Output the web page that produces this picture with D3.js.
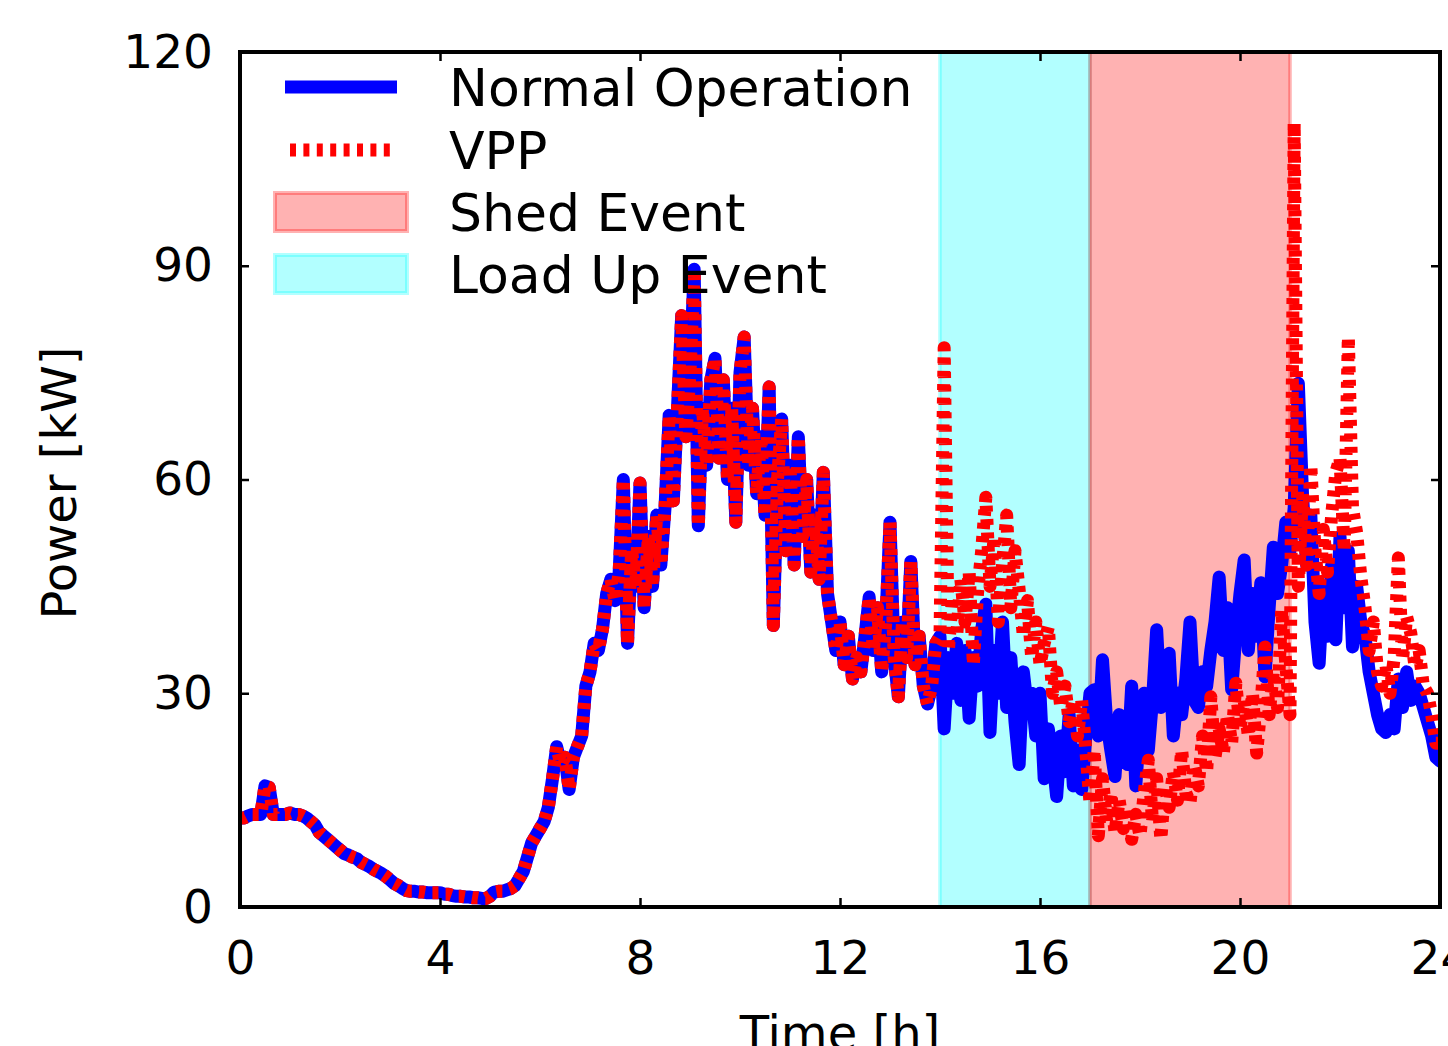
<!DOCTYPE html>
<html><head><meta charset="utf-8">
<script src="https://cdn.jsdelivr.net/npm/d3@7"></script>
<style>
body{margin:0;background:#fff;}
svg{display:block;font-family:"DejaVu Sans",sans-serif;}
</style>
</head><body>
<svg id="chart" width="1448" height="1046"></svg>
<script>
// ---- data (5-minute samples) ----
const stepMinutes = 5;
// Normal operation, 00:00 .. 24:00
const normalPower = [
  12.5,12.5,12.8,13,13,13,17,16.8,13,13,13,13,
  13.2,13,13,12.8,12.5,12,11.5,10.5,10,9.5,9,8.5,
  8,7.5,7.3,7,6.8,6.3,6,5.7,5.3,5,4.7,4.3,
  3.8,3.3,3,2.6,2.3,2.2,2.2,2.1,2.1,2,2,2,
  2,1.8,1.8,1.6,1.5,1.5,1.4,1.4,1.3,1.3,1.2,1.2,
  1.5,2.1,2.2,2.2,2.4,2.6,3,4,5,7,9,10,
  11,12,14,18,22.5,20,21,16.5,21,22.5,24,31,
  33,37,36,39,44,46,43,47,60,37,50,45,
  59.5,42,52,45,55,48,56,69,57,70,83,66,
  75,89.5,53.5,70,62,74,77,63,74,60,70,54,
  75,80,62,70,58,66,55,73,39.5,60,68.5,50,
  62,48,66,52,60,47,55,46,61,44,40,36,
  40,34,38,32,35,33,38,43.5,36,42,33,40,
  54,35,29.5,40,35,48.5,34,38,31,28.5,31,37,
  38,25,35,30,37,29,36,26.5,35,31,39,42.5,
  24.5,36,30,40,28,35,26,20,33,28,30,24,
  30,18,25,21,15.5,24,19,27,17,22,16.5,24,
  30,30.5,24,34.7,26,22,18.3,27,24,20,31,17,
  26,30,22,29,38.9,28,34,35.6,24,30,27,32,
  40,29,28,33,31,36,40,46.3,36,42,30.5,38,
  44,48.7,36,44,38,45.5,32.3,42,50.5,44,48,54,
  50,56,73.5,58,48,55,40,34.2,45,38,48,37.5,
  52,42,50,36.5,45,40,38,33,30,27,25,24.5,
  27,25,32,28,33,29,31,30,28,26,24,21,
  20.5
];
// VPP: identical to normal operation until 14:00 (curves coincide), then:
const vppStartHour = 14;
const vppFrom14 = [
  38,78.5,36,43.5,38,46,40,47,34,44,50,57.5,
  45,52,40,48,55,42,50,44.5,38,43,35,40,
  34,37,39.3,30,33,28,31,26,29,24,29,22,
  14.6,22,10,18,12,16,10.5,15,11,14,9.5,13,
  10,16,20.6,12,18,9.5,17,14,19,15,22,16,
  14.6,20,17,24,19,29.5,21,25,21.6,27,23,31.4,
  25,29,24,30,21.6,28,36.5,27,33,28,41.7,34,
  27,110,45,58,48,62,50,44,53,47,55,61,
  63,50,80,56,52.5,46.3,42,36,40,33,31,34,
  30,35,49,34.7,40.7,38.4,33.7,36,31,30,27,23,
  23
];
const shedEvent = [17, 21];
const loadUpEvent = [14, 17];
const xTicks = [0, 4, 8, 12, 16, 20, 24];
const yTicks = [0, 30, 60, 90, 120];
const legendLabels = ["Normal Operation", "VPP", "Shed Event", "Load Up Event"];

// ---- build series ----
const normalSeries = normalPower.map((v, i) => ({t: i * stepMinutes / 60, v}));
const startIdx = vppStartHour * 60 / stepMinutes;
const vppValues = normalPower.slice(0, startIdx).concat(vppFrom14);
const vppSeries = vppValues.map((v, i) => ({t: i * stepMinutes / 60, v}));

// ---- layout ----
const L = 240, R = 1440, T = 52, B = 907;
const svg = d3.select("#chart");
const x = d3.scaleLinear().domain([0, 24]).range([L, R]);
const y = d3.scaleLinear().domain([0, 120]).range([B, T]);

svg.append("defs").append("clipPath").attr("id", "plotClip")
  .append("rect").attr("x", L).attr("y", T).attr("width", R - L).attr("height", B - T);

// event spans
const spans = [
  {range: loadUpEvent, color: "0,255,255"},
  {range: shedEvent, color: "255,0,0"}
];
svg.append("g").selectAll("rect").data(spans).join("rect")
  .attr("x", d => x(d.range[0])).attr("y", T)
  .attr("width", d => x(d.range[1]) - x(d.range[0])).attr("height", B - T)
  .attr("fill", d => `rgba(${d.color},0.3)`)
  .attr("stroke", d => `rgba(${d.color},0.3)`).attr("stroke-width", 3.5);

const line = d3.line().x(d => x(d.t)).y(d => y(d.v));
const lines = svg.append("g").attr("clip-path", "url(#plotClip)");
lines.append("path").datum(normalSeries).attr("d", line)
  .attr("fill", "none").attr("stroke", "#0000ff").attr("stroke-width", 13)
  .attr("stroke-linejoin", "round").attr("stroke-linecap", "round");
lines.append("path").datum(vppSeries).attr("d", line)
  .attr("fill", "none").attr("stroke", "#ff0000").attr("stroke-width", 13)
  .attr("stroke-dasharray", "6 7.4")
  .attr("stroke-linejoin", "round").attr("stroke-linecap", "butt");

// axes
const fontTick = 47;
function styleAxis(g) {
  g.select(".domain").remove();
  g.selectAll(".tick line").attr("stroke", "#000").attr("stroke-width", 2.5);
  g.selectAll(".tick text").attr("fill", "#000").attr("font-size", fontTick)
    .attr("font-family", "DejaVu Sans, sans-serif");
}
svg.append("g").attr("transform", `translate(0,${B})`)
  .call(d3.axisBottom(x).tickValues(xTicks).tickSize(-9).tickPadding(34).tickFormat(d3.format("d")))
  .call(styleAxis);
svg.append("g").attr("transform", `translate(${L},0)`)
  .call(d3.axisLeft(y).tickValues(yTicks).tickSize(-9).tickPadding(27).tickFormat(d3.format("d")))
  .call(styleAxis);
svg.append("g").attr("transform", `translate(0,${T})`)
  .call(d3.axisTop(x).tickValues(xTicks).tickSize(-9).tickFormat(""))
  .call(styleAxis);
svg.append("g").attr("transform", `translate(${R},0)`)
  .call(d3.axisRight(y).tickValues(yTicks).tickSize(-9).tickFormat(""))
  .call(styleAxis);

// frame
svg.append("rect").attr("x", L).attr("y", T).attr("width", R - L).attr("height", B - T)
  .attr("fill", "none").attr("stroke", "#000").attr("stroke-width", 4);

// axis labels
svg.append("text").attr("x", 840).attr("y", 1050).attr("text-anchor", "middle")
  .attr("font-size", 48).attr("fill", "#000").text("Time [h]");
svg.append("text").attr("transform", "translate(76,483) rotate(-90)").attr("text-anchor", "middle")
  .attr("font-size", 48).attr("fill", "#000").text("Power [kW]");

// legend
const leg = svg.append("g");
const rowY = [87, 150, 212, 274];
leg.append("line").attr("x1", 285).attr("x2", 397).attr("y1", rowY[0]).attr("y2", rowY[0])
  .attr("stroke", "#0000ff").attr("stroke-width", 13);
leg.append("line").attr("x1", 290).attr("x2", 392).attr("y1", rowY[1]).attr("y2", rowY[1])
  .attr("stroke", "#ff0000").attr("stroke-width", 13).attr("stroke-dasharray", "6 7.4");
[[2, "255,0,0"], [3, "0,255,255"]].forEach(([i, c]) => {
  leg.append("rect").attr("x", 275).attr("y", rowY[i] - 19).attr("width", 132).attr("height", 38)
    .attr("fill", `rgba(${c},0.3)`).attr("stroke", `rgba(${c},0.3)`).attr("stroke-width", 4);
});
leg.selectAll("text.lbl").data(legendLabels).join("text").attr("class", "lbl")
  .attr("x", 449).attr("y", (d, i) => rowY[i] + 19)
  .attr("font-size", 52).attr("fill", "#000").text(d => d);
</script>
</body></html>
